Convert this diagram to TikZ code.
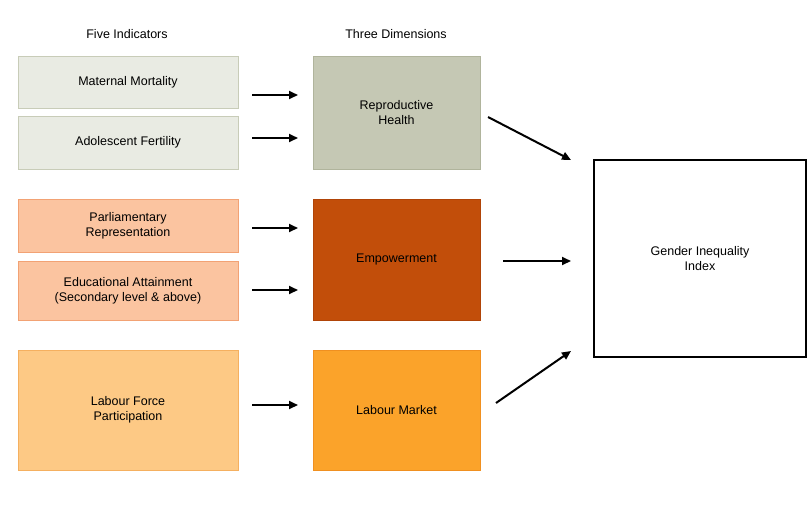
\documentclass[tikz,border=0pt]{standalone}
\usepackage{fontspec}
\setmainfont{Liberation Sans}
\usetikzlibrary{arrows.meta}
\definecolor{gA}{HTML}{E9EBE3}\definecolor{gAb}{HTML}{C8CCB8}
\definecolor{pA}{HTML}{FBC4A0}\definecolor{pAb}{HTML}{F2A274}
\definecolor{oA}{HTML}{FDC985}\definecolor{oAb}{HTML}{F5B060}
\definecolor{gD}{HTML}{C5C8B4}\definecolor{gDb}{HTML}{B0B49C}
\definecolor{eD}{HTML}{C24E0A}\definecolor{eDb}{HTML}{B04408}
\definecolor{lD}{HTML}{FBA32A}\definecolor{lDb}{HTML}{F09020}
\begin{document}
\begin{tikzpicture}[x=1pt,y=-1pt,
  box/.style={draw, line width=1pt, align=center, font=\fontsize{12.5}{15}\selectfont, inner sep=0pt},
  arr/.style={-{Triangle[length=9pt,width=8pt]}, line width=2pt},
  hd/.style={font=\fontsize{12.5}{15}\selectfont}]
\useasboundingbox (0,0) rectangle (810,506);
\newcommand{\bx}[8]{\node[box, fill=#6, draw=#7, text=#8, minimum width=#3pt, minimum height=#4pt] (#1) at (#2) {#5};}
\node[hd] (h1) at (127,34) {Five Indicators};
\node[hd] (h2) at (396,34) {Three Dimensions};
\bx{mm}{128,82}{220}{52}{Maternal Mortality}{gA}{gAb}{black}
\bx{af}{128,142.5}{220}{53}{Adolescent Fertility}{gA}{gAb}{black}
\bx{pr}{128,225.5}{220}{53}{Parliamentary\\Representation}{pA}{pAb}{black}
\bx{ea}{128,290.5}{220}{59}{Educational Attainment\\(Secondary level \& above)}{pA}{pAb}{black}
\bx{lf}{128,410}{220}{120}{Labour Force\\Participation}{oA}{oAb}{black}
\bx{rh}{396.5,112.5}{167}{113}{Reproductive\\Health}{gD}{gDb}{black}
\bx{em}{396.5,259.5}{167}{121}{Empowerment}{eD}{eDb}{black}
\bx{lm}{396.5,410}{167}{120}{Labour Market}{lD}{lDb}{black}
\node[box, draw=black, line width=2pt, minimum width=212pt, minimum height=197pt] (gii) at (700,258.5) {Gender Inequality\\Index};
\foreach \n/\y in {a/95,b/138,c/228,d/290,e/405}{
  \coordinate (s\n) at (252,\y); \coordinate (t\n) at (298,\y);
  \draw[arr] (s\n) -- (t\n);}
\coordinate (u1) at (488,117); \coordinate (v1) at (571,160);
\coordinate (u2) at (503,261); \coordinate (v2) at (571,261);
\coordinate (u3) at (496,403); \coordinate (v3) at (571,351);
\draw[arr] (u1) -- (v1); \draw[arr] (u2) -- (v2); \draw[arr] (u3) -- (v3);
\end{tikzpicture}
\end{document}
